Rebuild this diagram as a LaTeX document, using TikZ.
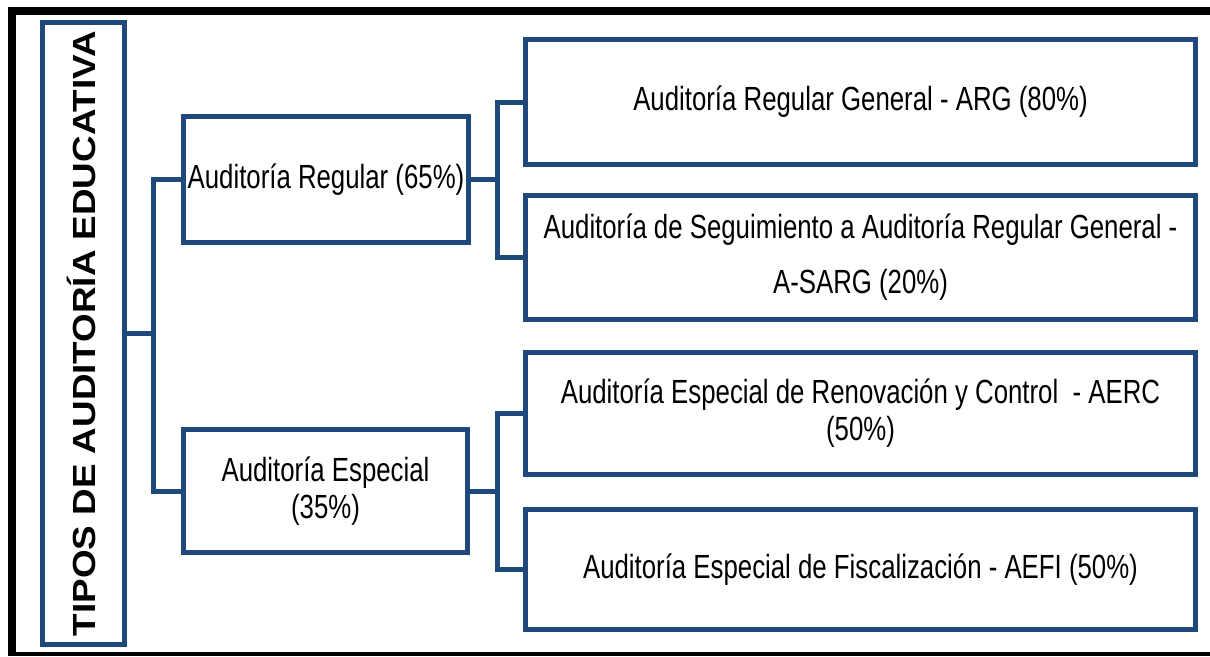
\documentclass[tikz,border=0pt]{standalone}
\usepackage{fontspec}
\newfontfamily\nf{Liberation Sans}[FakeStretch=0.77]
\newfontfamily\tf{Liberation Sans}[FakeStretch=1.15]
\definecolor{navy}{RGB}{31,73,125}
\begin{document}
\begin{tikzpicture}[x=1pt,y=-1pt,
  box/.style={draw=navy,line width=5pt,fill=white,inner sep=0pt,minimum width=670pt,align=center,
    font=\nf\fontsize{33.5}{37}\selectfont},
  conn/.style={draw=navy,line width=5pt,line join=miter}]
\useasboundingbox (0,0) rectangle (1210,656);
\fill[white] (0,0) rectangle (1210,656);
% outer frame
\fill[black] (8,7) rectangle (1210,15);
\fill[black] (8,7) rectangle (16,656);
\fill[black] (8,652) rectangle (1210,656);
% nodes
\node[box,minimum width=82pt,minimum height=622pt] (title) at (83.5,333.5) {};
\node[rotate=90,font=\tf\fontsize{32}{36}\selectfont\bfseries,inner sep=0pt] (titletext) at (81,333.5) {TIPOS DE AUDITORÍA EDUCATIVA};
\node[box,minimum width=285pt,minimum height=126pt] (reg) at (326,179.5) {Auditoría Regular (65\%)};
\node[box,minimum width=284pt,minimum height=123pt] (esp) at (325.5,491) {Auditoría Especial\\(35\%)};
\node[box,minimum height=125pt] (arg) at (860.5,102) {Auditoría Regular General - ARG (80\%)};
\node[box,minimum height=124pt] (sarg) at (860.5,257.5) {Auditoría de Seguimiento a Auditoría Regular General -\\[18pt]A-SARG (20\%)};
\node[box,minimum height=122pt] (aerc) at (860.5,413.5) {Auditoría Especial de Renovación y Control \ - AERC\\(50\%)};
\node[box,minimum height=120pt] (aefi) at (860.5,569.5) {Auditoría Especial de Fiscalización - AEFI (50\%)};
% connectors
\coordinate (j1) at (153,333.5);
\coordinate (j2) at (497,179.5);
\coordinate (j3) at (497,491);
\draw[conn] (title.east) -- (j1);
\draw[conn] (reg.west) -| (j1) |- (esp.west);
\draw[conn] (reg.east) -- (j2);
\draw[conn] (arg.west) -| (j2) |- (sarg.west);
\draw[conn] (esp.east) -- (j3);
\draw[conn] (aerc.west) -| (j3) |- (aefi.west);
\end{tikzpicture}
\end{document}
